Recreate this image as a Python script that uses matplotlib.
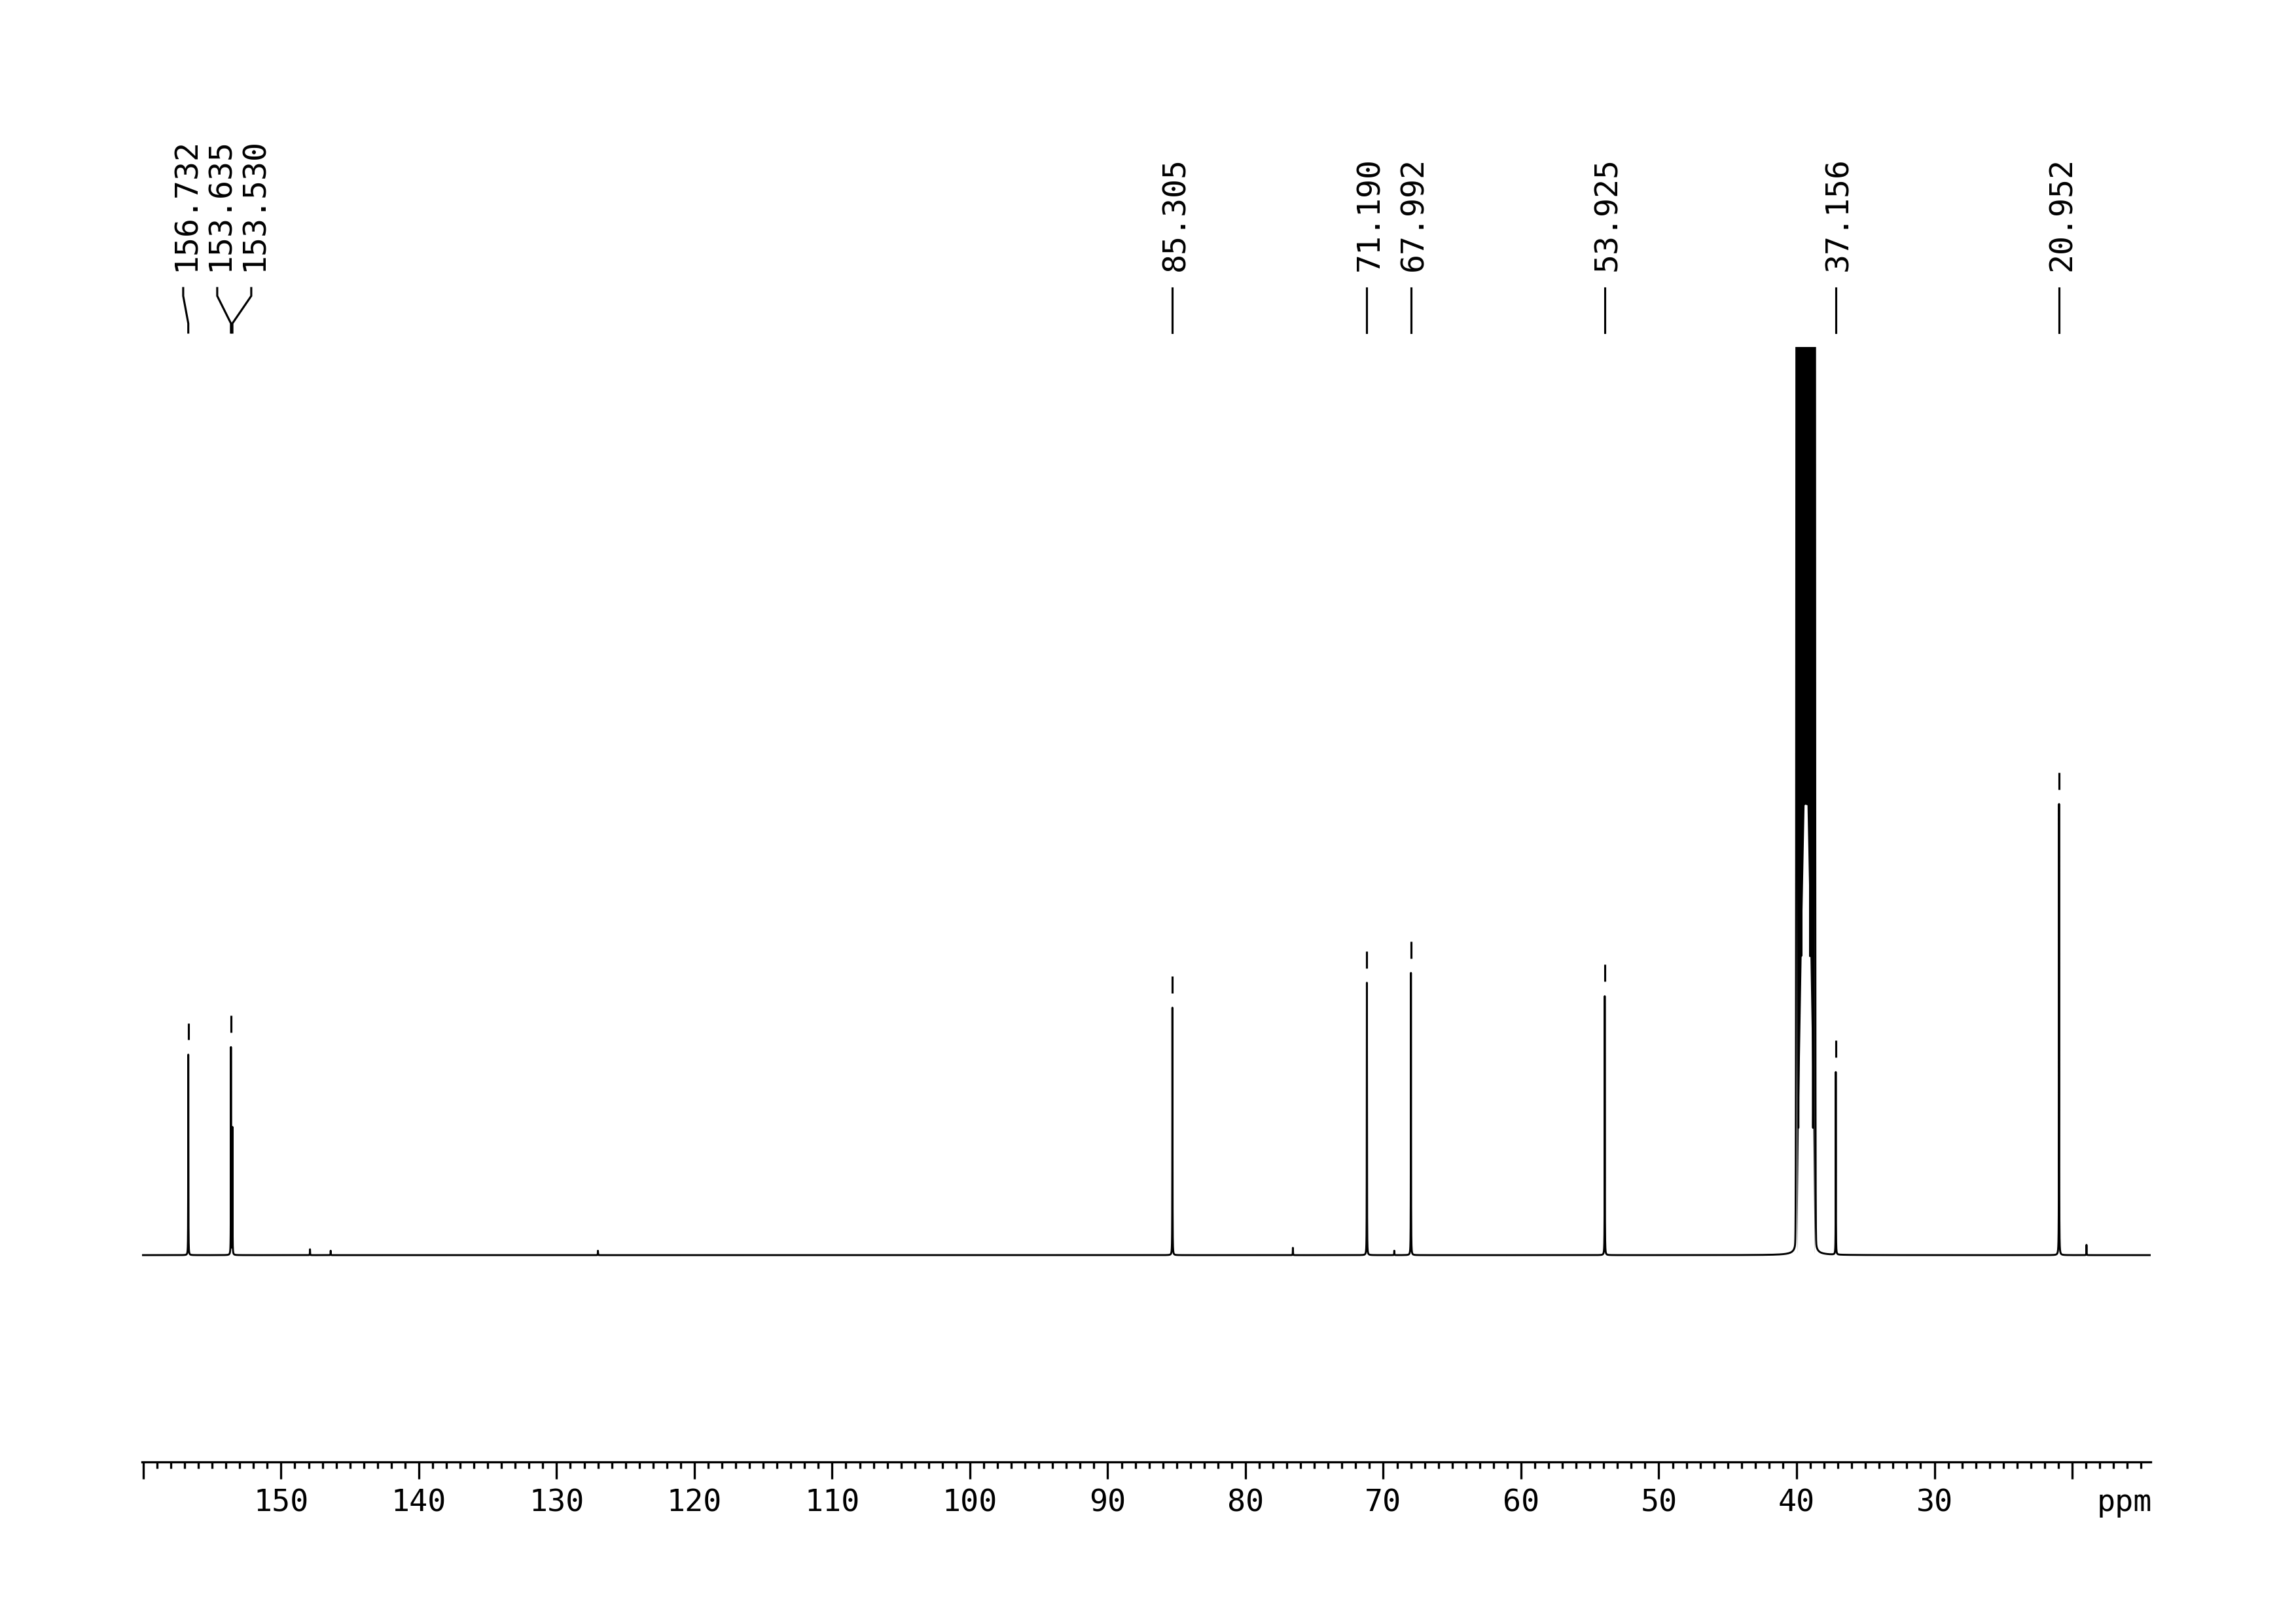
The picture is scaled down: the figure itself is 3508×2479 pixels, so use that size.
import numpy as np
import matplotlib
matplotlib.use("Agg")
import matplotlib.pyplot as plt
from matplotlib.transforms import blended_transform_factory, ScaledTranslation

plt.rcParams["font.family"] = ["DejaVu Sans Mono"]

# ---------------- data ----------------
peak_ppm = [156.732, 153.635, 153.530, 85.305, 71.190, 67.992, 53.925, 37.156, 20.952]
peak_height = [137, 142, 87, 169, 186, 193, 177, 125, 309]
peak_labels = ["156.732", "153.635", "153.530", "85.305", "71.190",
               "67.992", "53.925", "37.156", "20.952"]

small_ppm = [147.9, 146.4, 127.0, 76.56, 69.2, 18.96]
small_height = [4, 3, 3, 5, 3, 7]

# DMSO-d6 septet (clipped in the reference)
solvent_center = 39.34
solvent_J = 0.21
solvent_rel = [1, 3, 6, 7, 6, 3, 1]
solvent_gauss_scale = 1608
solvent_lor_scale = 417

tick_major = [160, 150, 140, 130, 120, 110, 100, 90, 80, 70, 60, 50, 40, 30, 20]
tick_major_labels = ["", "150", "140", "130", "120", "110", "100", "90", "80",
                     "70", "60", "50", "40", "30", ""]
tick_minor = list(range(160, 14, -1))
x_limits = (160.09, 14.30)
clip_level = 620
y_limits = (-141.2, clip_level)

# ---------------- figure ----------------
W, H, DPI = 3508, 2479, 300
fig = plt.figure(figsize=(W / DPI, H / DPI), dpi=DPI)
fig.patch.set_facecolor("white")


def fy(px):
    return 1 - px / H


ax_left, ax_right, ax_bottom_px, ax_top_px = 217, 3286, 2233, 530
ax = fig.add_axes([ax_left / W, fy(ax_bottom_px), (ax_right - ax_left) / W,
                   (ax_bottom_px - ax_top_px) / H])
ax.set_xlim(*x_limits)
ax.set_ylim(*y_limits)

# spectrum built from the peak list
x = np.linspace(x_limits[0], x_limits[1], 145801)
y = np.zeros_like(x)
w_peak = 0.008
for p, h in zip(peak_ppm, peak_height):
    y += h * w_peak ** 2 / ((x - p) ** 2 + w_peak ** 2)
for p, h in zip(small_ppm, small_height):
    y += h * w_peak ** 2 / ((x - p) ** 2 + w_peak ** 2)
nl = len(solvent_rel)
sig_s = 0.035
w_s = 0.012
solv_lines = [solvent_center + (k - (nl - 1) / 2) * solvent_J for k in range(nl)]
for p, r in zip(solv_lines, solvent_rel):
    y += r * solvent_gauss_scale * np.exp(-(x - p) ** 2 / (2 * sig_s ** 2))
    y += r * solvent_lor_scale * w_s ** 2 / ((x - p) ** 2 + w_s ** 2)

# dense (clipped) solvent multiplet: the display fills each column from the
# clip level down to the valley envelope, as the spectrometer plot does
lo, hi = min(solv_lines), max(solv_lines)
region = (x >= lo) & (x <= hi)
xi = np.where(region)[0]
xs, ys = x[xi], y[xi]
mins = [j for j in range(1, len(ys) - 1) if ys[j] < ys[j - 1] and ys[j] < ys[j + 1]]
node_x = [hi] + [xs[j] for j in mins] + [lo]
node_y = [0.0] + [ys[j] for j in mins] + [0.0]
order_n = np.argsort(node_x)
env = np.interp(xs, np.array(node_x)[order_n], np.array(node_y)[order_n])
ax.fill_between(xs, env, clip_level + 50, color="black", lw=0)

ax.plot(x, y, color="black", lw=0.7)

# peak-pick markers
for p in peak_ppm:
    sel = (x > p - 0.15) & (x < p + 0.15)
    local = y[sel].max()
    own = y[np.argmin(np.abs(x - p))]
    if own < local - 1:
        continue
    ax.plot([p, p], [local + 10, local + 21.5], color="black", lw=0.75,
            solid_capstyle="butt")

# axis styling
for s in ["left", "right", "top"]:
    ax.spines[s].set_visible(False)
ax.spines["bottom"].set_linewidth(0.8)
ax.set_yticks([])
ax.set_xticks(tick_major)
ax.set_xticklabels(tick_major_labels)
ax.set_xticks(tick_minor, minor=True)
ax.tick_params(axis="x", which="major", length=6.2, width=0.8, direction="out",
               pad=3.6, labelsize=11.2)
ax.tick_params(axis="x", which="minor", length=2.3, width=0.8, direction="out")
fig.text(3288 / W, fy(2308), "ppm", ha="right", va="baseline", fontsize=11.2)

# ---------------- peak labels ----------------
spacing = 52 / ((ax_right - ax_left) / (x_limits[0] - x_limits[1]))
order = sorted(range(len(peak_ppm)), key=lambda i: -peak_ppm[i])
groups = [[i] for i in order]


def group_pos(g):
    c = np.mean([peak_ppm[i] for i in g])
    n = len(g)
    return [c + spacing * ((n - 1) / 2 - k) for k in range(n)]


changed = True
while changed:
    changed = False
    for gi in range(len(groups) - 1):
        a = group_pos(groups[gi])[-1]
        b = group_pos(groups[gi + 1])[0]
        if a - b < spacing:
            groups[gi] = groups[gi] + groups[gi + 1]
            del groups[gi + 1]
            changed = True
            break

label_pos = {}
for g in groups:
    for i, pos in zip(g, group_pos(g)):
        label_pos[i] = pos

trans = blended_transform_factory(ax.transData, fig.transFigure)
fs = 11.6
dx = ScaledTranslation(0.729 * fs / 2 / 72, 0, fig.dpi_scale_trans)
for i, p in enumerate(peak_ppm):
    lx = label_pos[i]
    ax.plot([lx, lx, p, p], [fy(440), fy(452), fy(494), fy(508)],
            transform=trans, color="black", lw=0.75, clip_on=False)
    ax.text(lx, fy(414), peak_labels[i], transform=trans + dx, rotation=90,
            rotation_mode="anchor", ha="left", va="baseline", fontsize=fs,
            clip_on=False)

fig.savefig("out.png", dpi=DPI, facecolor="white")
